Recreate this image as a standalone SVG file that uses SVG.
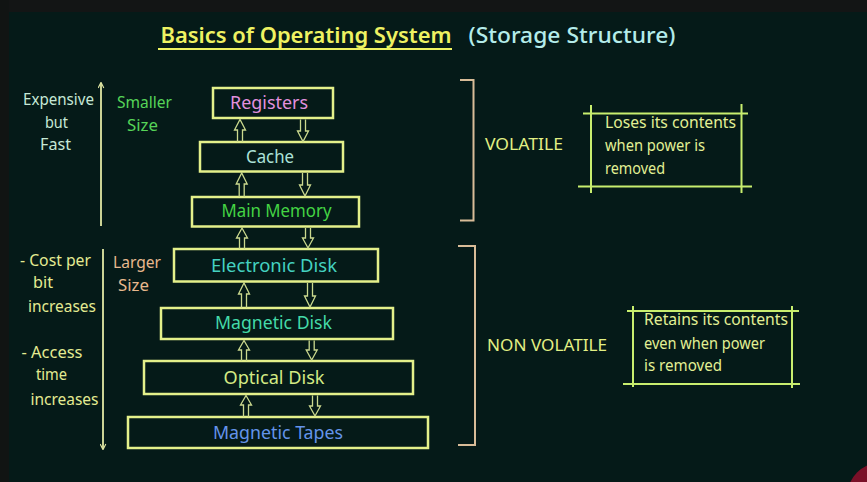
<svg xmlns="http://www.w3.org/2000/svg" width="867" height="482" viewBox="0 0 867 482">
<defs>
<style>
text{font-family:"Noto Sans","Liberation Sans",sans-serif;}
.box{fill:none;stroke:#e4f08a;stroke-width:2.5;}
.arr{fill:none;stroke:#cbd98e;stroke-width:1.3;stroke-linejoin:miter;}
.node{font-size:18px;}
.side{font-size:15.5px;}
.brk{fill:none;stroke:#d8bc98;stroke-width:2;}
.frame{fill:none;stroke:#c8ee6e;stroke-width:2;}
.note{font-size:15.5px;fill:#e2f094;}
.axis{stroke:#e2e8a4;stroke-width:1.8;fill:none;}
</style>
<marker id="ah" viewBox="0 0 10 10" refX="8" refY="5" markerWidth="7" markerHeight="7" orient="auto-start-reverse" markerUnits="userSpaceOnUse">
<path d="M1,1 L9,5 L1,9" fill="none" stroke="#e2e8a4" stroke-width="1.6"/>
</marker>
</defs>
<rect width="867" height="482" fill="#051a18"/>
<rect width="867" height="12" fill="#131515"/>
<rect width="9" height="482" fill="#111413"/>
<circle cx="882" cy="497" r="35" fill="#7a1028"/>

<g id="title">
<text x="160.5" y="43" font-size="21" font-weight="600" fill="#eef262" textLength="291" lengthAdjust="spacingAndGlyphs">Basics of Operating System</text>
<line x1="158" y1="49" x2="452" y2="49" stroke="#eef262" stroke-width="2"/>
<text x="468.5" y="43" font-size="21" font-weight="500" fill="#b4ecea" textLength="207" lengthAdjust="spacingAndGlyphs">(Storage Structure)</text>
</g>

<g id="left-axis">
<line class="axis" x1="101" y1="226" x2="101" y2="83" marker-end="url(#ah)"/>
<line class="axis" x1="103" y1="249" x2="103" y2="449" marker-end="url(#ah)"/>
<g class="side" fill="#c6e8d6">
<text x="23" y="105" textLength="71" lengthAdjust="spacingAndGlyphs">Expensive</text>
<text x="45" y="128" textLength="23" lengthAdjust="spacingAndGlyphs">but</text>
<text x="40" y="150" textLength="31" lengthAdjust="spacingAndGlyphs">Fast</text>
</g>
<g class="side" fill="#56d458">
<text x="117" y="108" textLength="55" lengthAdjust="spacingAndGlyphs">Smaller</text>
<text x="127" y="131" textLength="31" lengthAdjust="spacingAndGlyphs">Size</text>
</g>
<g class="side" fill="#e4eb92">
<text x="20" y="266" textLength="71" lengthAdjust="spacingAndGlyphs">- Cost per</text>
<text x="33" y="288" textLength="20" lengthAdjust="spacingAndGlyphs">bit</text>
<text x="28" y="312" textLength="68" lengthAdjust="spacingAndGlyphs">increases</text>
<text x="21.5" y="358" textLength="61" lengthAdjust="spacingAndGlyphs">- Access</text>
<text x="36" y="380" textLength="31" lengthAdjust="spacingAndGlyphs">time</text>
<text x="30.5" y="405" textLength="68" lengthAdjust="spacingAndGlyphs">increases</text>
</g>
<g class="side" fill="#e8b88e">
<text x="113" y="268" textLength="48" lengthAdjust="spacingAndGlyphs">Larger</text>
<text x="118" y="291" textLength="31" lengthAdjust="spacingAndGlyphs">Size</text>
</g>
</g>

<g id="registers"><rect class="box" x="213" y="88" width="120" height="30"/><text class="node" x="230" y="108.5" textLength="78" lengthAdjust="spacingAndGlyphs" fill="#e290de">Registers</text></g>
<g id="cache"><rect class="box" x="200" y="142" width="143" height="29.5"/><text class="node" x="246" y="163" textLength="48" lengthAdjust="spacingAndGlyphs" fill="#ace2d8">Cache</text></g>
<g id="main-memory"><rect class="box" x="192" y="197" width="167" height="29.5"/><text class="node" x="221.5" y="217" textLength="110" lengthAdjust="spacingAndGlyphs" fill="#44d444">Main Memory</text></g>
<g id="electronic-disk"><rect class="box" x="174" y="249" width="204" height="32.5"/><text class="node" x="211" y="272" textLength="126" lengthAdjust="spacingAndGlyphs" fill="#44d2c0">Electronic Disk</text></g>
<g id="magnetic-disk"><rect class="box" x="161" y="308" width="232" height="31"/><text class="node" x="215" y="329" textLength="117" lengthAdjust="spacingAndGlyphs" fill="#44daa8">Magnetic Disk</text></g>
<g id="optical-disk"><rect class="box" x="144" y="361" width="269" height="33"/><text class="node" x="223.5" y="384" textLength="101" lengthAdjust="spacingAndGlyphs" fill="#d4ea84">Optical Disk</text></g>
<g id="magnetic-tapes"><rect class="box" x="128" y="417" width="300" height="31"/><text class="node" x="213" y="438.5" textLength="130" lengthAdjust="spacingAndGlyphs" fill="#6494ea">Magnetic Tapes</text></g>

<g id="connectors" class="arr">
<path d="M237.5,142 V130 H234.5 L240,119.5 L245.5,130 H242.5 V142"/>
<path d="M300.5,119.5 V131 H297.5 L303,141.5 L308.5,131 H305.5 V119.5"/>
<path d="M239.2,197 V184 H236.2 L241.7,173 L247.2,184 H244.2 V197"/>
<path d="M302.5,173 V185 H299.5 L305,196 L310.5,185 H307.5 V173"/>
<path d="M239.5,249 V238 H236.5 L242,228 L247.5,238 H244.5 V249"/>
<path d="M305.5,228 V238 H302.5 L308,248 L313.5,238 H310.5 V228"/>
<path d="M241.5,308 V294 H238.5 L244,283 L249.5,294 H246.5 V308"/>
<path d="M307.5,283 V296 H304.5 L310,307 L315.5,296 H312.5 V283"/>
<path d="M241.5,361 V350 H238.5 L244,340.5 L249.5,350 H246.5 V361"/>
<path d="M309.2,340.5 V350 H306.2 L311.7,360 L317.2,350 H314.2 V340.5"/>
<path d="M243.5,417 V405 H240.5 L246,395.5 L251.5,405 H248.5 V417"/>
<path d="M312.5,395.5 V406 H309.5 L315,416 L320.5,406 H317.5 V395.5"/>
</g>

<g id="volatile">
<path class="brk" d="M460,80 H473.5 V220.5 H460"/>
<text x="485" y="150" font-size="16" fill="#e2f084" textLength="78" lengthAdjust="spacingAndGlyphs">VOLATILE</text>
<g class="frame">
<line x1="583" y1="113.5" x2="748" y2="113.5"/>
<line x1="578" y1="186.5" x2="752" y2="186.5"/>
<line x1="591" y1="105" x2="591" y2="193"/>
<line x1="741.5" y1="104" x2="741.5" y2="193"/>
</g>
<text class="note" x="605" y="127.5" textLength="131" lengthAdjust="spacingAndGlyphs">Loses its contents</text>
<text class="note" x="605" y="150.5" textLength="100" lengthAdjust="spacingAndGlyphs">when power is</text>
<text class="note" x="605" y="173.5" textLength="60" lengthAdjust="spacingAndGlyphs">removed</text>
</g>

<g id="non-volatile">
<path class="brk" d="M458,246 H475 V445 H458"/>
<text x="487" y="351" font-size="16" fill="#e2f084" textLength="120" lengthAdjust="spacingAndGlyphs">NON VOLATILE</text>
<g class="frame">
<line x1="627" y1="311" x2="799" y2="311"/>
<line x1="623" y1="384" x2="800" y2="384"/>
<line x1="633" y1="306" x2="633" y2="387"/>
<line x1="792" y1="306" x2="792" y2="388"/>
</g>
<text class="note" x="644" y="325" textLength="144" lengthAdjust="spacingAndGlyphs">Retains its contents</text>
<text class="note" x="644" y="348.5" textLength="121" lengthAdjust="spacingAndGlyphs">even when power</text>
<text class="note" x="644" y="371" textLength="78" lengthAdjust="spacingAndGlyphs">is removed</text>
</g>
</svg>
